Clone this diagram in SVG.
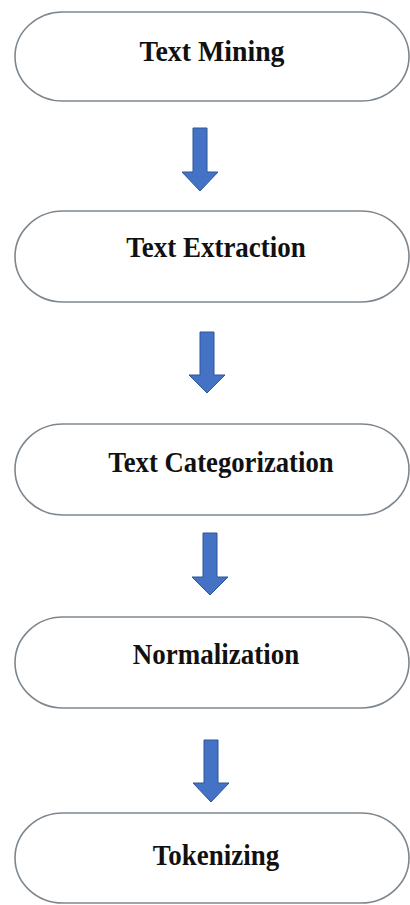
<svg xmlns="http://www.w3.org/2000/svg" width="410" height="905" viewBox="0 0 410 905">
  <style>
    .node { fill: #ffffff; stroke: #7d868e; stroke-width: 1.6; }
    .label { font-family: "Liberation Serif", "Times New Roman", serif; font-weight: bold; font-size: 27px; fill: #111111; text-anchor: middle; }
    .arrow { fill: #4472C4; stroke: #2F5597; stroke-width: 1; }
  </style>
  <rect x="0" y="0" width="410" height="905" fill="#ffffff"/>
  <g id="connectors">
    <path class="arrow" d="M193,128 H207 V172 H218 L200,191 L182,172 H193 Z"/>
    <path class="arrow" d="M200,332 H214 V375 H225 L207,393 L189,375 H200 Z"/>
    <path class="arrow" d="M203,533 H217 V577 H228 L210,595 L192,577 H203 Z"/>
    <path class="arrow" d="M204,740 H218 V783 H229 L211,802 L193,783 H204 Z"/>
  </g>
  <g id="node-text-mining">
    <rect class="node" x="15" y="12" width="394" height="89" rx="48" ry="44.5"/>
    <text class="label" transform="translate(212,61) scale(1.03,1.12)">Text Mining</text>
  </g>
  <g id="node-text-extraction">
    <rect class="node" x="15" y="211" width="394" height="91" rx="48" ry="45.5"/>
    <text class="label" transform="translate(216,257) scale(1,1.12)">Text Extraction</text>
  </g>
  <g id="node-text-categorization">
    <rect class="node" x="15" y="424" width="394" height="91" rx="48" ry="45.5"/>
    <text class="label" transform="translate(221,472) scale(0.99,1.12)">Text Categorization</text>
  </g>
  <g id="node-normalization">
    <rect class="node" x="15" y="617" width="394" height="91" rx="48" ry="45.5"/>
    <text class="label" transform="translate(216,664) scale(1,1.12)">Normalization</text>
  </g>
  <g id="node-tokenizing">
    <rect class="node" x="15" y="813" width="394" height="90" rx="48" ry="45"/>
    <text class="label" transform="translate(216,865) scale(1,1.12)">Tokenizing</text>
  </g>
</svg>
